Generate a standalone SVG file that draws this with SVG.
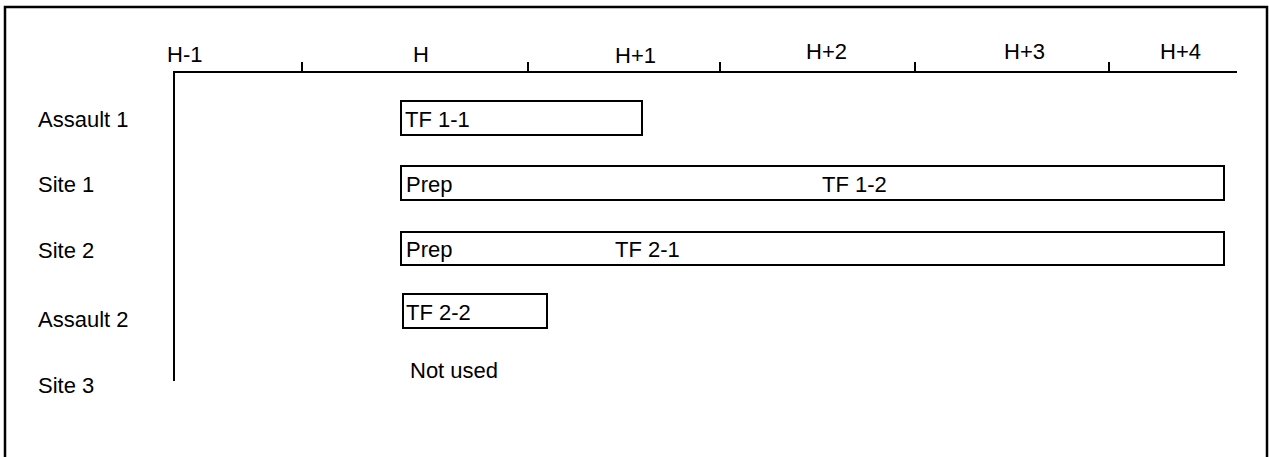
<svg xmlns="http://www.w3.org/2000/svg" width="1269" height="457" viewBox="0 0 1269 457">
<style>
text{font-family:"Liberation Sans",Arial,sans-serif;font-size:22px;fill:#000}
.box{fill:#fff;stroke:#000;stroke-width:2}
.ax{stroke:#000;stroke-width:2;fill:none}
</style>
<rect x="5" y="7" width="1262" height="470" fill="#fff" stroke="#000" stroke-width="2.5"/>
<g id="connectors">
<path class="ax" d="M174 381V72H1237"/>
<path class="ax" d="M302 62V72M528 62V72M720 62V72M915 62V72M1109 62V72"/>
</g>
<g id="axis-labels">
<text x="167" y="62">H-1</text>
<text x="413" y="62">H</text>
<text x="615" y="63">H+1</text>
<text x="806" y="59">H+2</text>
<text x="1004" y="59">H+3</text>
<text x="1160" y="59">H+4</text>
</g>
<g id="row-labels">
<text x="38" y="127">Assault 1</text>
<text x="38" y="192">Site 1</text>
<text x="38" y="258">Site 2</text>
<text x="38" y="327">Assault 2</text>
<text x="38" y="393">Site 3</text>
</g>
<g id="tf11"><rect class="box" x="401" y="101" width="241" height="34"/><text x="405" y="127">TF 1-1</text></g>
<g id="tf12"><rect class="box" x="401" y="166" width="823" height="34"/><text x="406" y="192">Prep</text><text x="822" y="192">TF 1-2</text></g>
<g id="tf21"><rect class="box" x="401" y="232" width="823" height="33"/><text x="406" y="257">Prep</text><text x="615" y="257">TF 2-1</text></g>
<g id="tf22"><rect class="box" x="403" y="294" width="144" height="34"/><text x="406" y="320">TF 2-2</text></g>
<g id="site3"><text x="410" y="378">Not used</text></g>
</svg>
